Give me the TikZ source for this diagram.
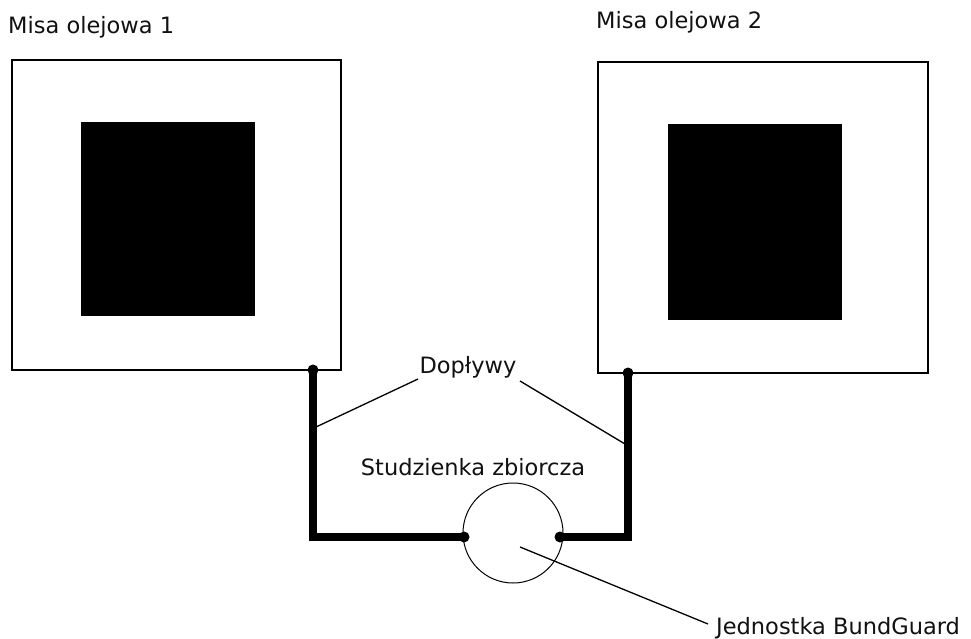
\documentclass[tikz,border=0pt]{standalone}
\usepackage{fontspec}
\setmainfont{DejaVu Sans}
\usetikzlibrary{positioning, calc}
\definecolor{inkblack}{HTML}{000000}
\definecolor{textgrey}{HTML}{111111}
\tikzset{
  misa/.style={rectangle, draw=inkblack, line width=1.6pt, fill=white,
               inner sep=0pt},
  wklad/.style={rectangle, fill=inkblack, draw=none, inner sep=0pt},
  pipe/.style={draw=inkblack, line width=8pt, line cap=round, line join=miter},
  pipedot/.style={circle, fill=inkblack, inner sep=0pt, minimum size=11pt},
  leader/.style={draw=inkblack, line width=1.3pt},
  studz/.style={circle, draw=inkblack, line width=1pt, inner sep=0pt,
                minimum size=100pt},
  lab/.style={font=\fontsize{22.5}{26}\selectfont, text=textgrey, inner sep=0pt},
}
\begin{document}
\begin{tikzpicture}[x=1pt, y=-1pt]
  \useasboundingbox (0,0) rectangle (971,639);

  % --- Oil trays ---
  \node[misa, minimum width=329pt, minimum height=310pt] (misa1) at (176.5,215) {};
  \node[misa, minimum width=330pt, minimum height=311pt] (misa2) at (763,217.5) {};
  \node[wklad, minimum width=174pt, minimum height=194pt] (wklad1) at (168,219) {};
  \node[wklad, minimum width=174pt, minimum height=196pt] (wklad2) at (755,222) {};

  \node[lab, anchor=west] (tyt1) at (8,27) {Misa olejowa 1};
  \node[lab, anchor=west] (tyt2) at (596,22) {Misa olejowa 2};

  % --- Collecting sump ---
  \node[studz] (sump) at (513,533) {};
  \node[lab] (tytsump) at (473,467) {Studzienka zbiorcza};

  % --- Inflow pipes ---
  \coordinate (in1) at (313,370);
  \coordinate (in2) at (628,373);
  \coordinate (out1) at (464,537);
  \coordinate (out2) at (560,537);
  \draw[pipe] (in1) |- (out1);
  \draw[pipe] (in2) |- (out2);
  \foreach \p in {in1,in2,out1,out2} {
    \node[pipedot] at (\p) {};
  }

  % Labels and leaders
  \node[lab] (dop) at (468,367) {Dopływy};
  \coordinate (dopL) at (418,379);
  \coordinate (dopR) at (520,381);
  \coordinate (rura1) at (316,427);
  \coordinate (rura2) at (625,444);
  \draw[leader] (dopL) -- (rura1);
  \draw[leader] (dopR) -- (rura2);

  \node[lab, anchor=west] (bund) at (716,628) {Jednostka BundGuard};
  \coordinate (bundpt) at (520,547);
  \coordinate (bundend) at (708,624);
  \draw[leader] (bundpt) -- (bundend);

\end{tikzpicture}
\end{document}
